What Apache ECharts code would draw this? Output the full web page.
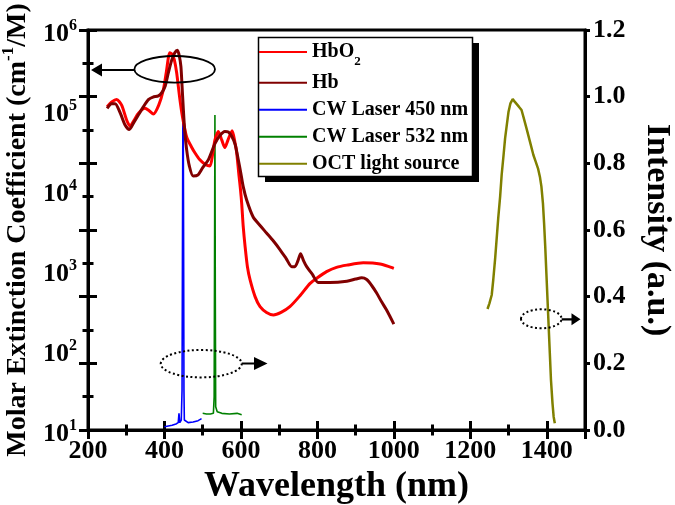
<!DOCTYPE html>
<html><head><meta charset="utf-8">
<script src="https://cdn.jsdelivr.net/npm/echarts@6/dist/echarts.min.js"></script>
<style>html,body{margin:0;padding:0;background:#fff}#c{width:675px;height:505px}</style>
</head><body><div id="c"></div>
<script>
// ---- data ----
const xTicks = [200, 400, 600, 800, 1000, 1200, 1400];
const rightTicks = [0.0, 0.2, 0.4, 0.6, 0.8, 1.0, 1.2];

const hbo2Wl = [250,262,275,288,301,310,320,332,349,360,371,385,397,405,414,420,426,432,440,447,458,470,480,492,506,519,526,532,541,550,558,566,577,585,589,595,599,602,606,611,617,624,637,650,667,685,705,728,755,781,800,824,850,877,920,964,1000];
const hbo2Val = [1.1e5,1.26e5,1.35e5,1.15e5,7.5e4,6.3e4,7.4e4,9.1e4,1.05e5,9.8e4,8.9e4,1.15e5,1.78e5,3.0e5,5.2e5,5.0e5,4.2e5,2.9e5,1.4e5,8.3e4,4.6e4,3.5e4,2.9e4,2.4e4,2.1e4,2.0e4,2.8e4,4.2e4,5.4e4,4.2e4,3.4e4,4.2e4,5.5e4,3.8e4,2.9e4,1.5e4,1.0e4,6.8e3,3.5e3,1.95e3,1.1e3,750,465,348,295,274,295,348,480,680,800,955,1080,1150,1230,1190,1050];

const hbWl = [250,262,271,285,297,308,320,332,345,358,370,384,393,402,410,419,427,434,439,443,446,449,453,458,465,475,488,500,515,532,545,558,567,576,585,593,600,606,615,632,650,667,685,702,718,733,741,749,756,764,772,787,802,833,877,900,916,929,942,955,968,981,1000];
const hbVal = [1.05e5,1.2e5,1.2e5,9.0e4,6.5e4,5.7e4,7.0e4,8.7e4,1.1e5,1.35e5,1.45e5,1.5e5,1.65e5,2.0e5,2.9e5,4.2e5,5.2e5,5.6e5,4.7e5,3.5e5,2.0e5,1.1e5,5.5e4,3.2e4,2.0e4,1.5e4,1.55e4,1.9e4,2.4e4,3.8e4,4.8e4,5.4e4,5.3e4,4.7e4,3.7e4,2.4e4,1.6e4,1.1e4,7.5e3,4.6e3,3.6e3,2.9e3,2.3e3,1.8e3,1.4e3,1.1e3,1.1e3,1.3e3,1.6e3,1.3e3,1.1e3,880,700,700,725,770,800,760,640,515,400,316,211];

const laser450Wl = [400,410,420,430,436,438,440,444,446,447,448,449,450,451,452,456,462,475,488,497];
const laser450Val = [0.010,0.012,0.014,0.018,0.022,0.05,0.022,0.03,0.12,0.5,0.9,0.985,0.6,0.12,0.03,0.025,0.022,0.024,0.028,0.034];

const laser532Wl = [500,510,520,528,530,531,532,533,534,538,550,570,590,602];
const laser532Val = [0.05,0.048,0.048,0.05,0.1,0.5,0.945,0.4,0.07,0.055,0.05,0.048,0.05,0.046];

const octWl = [1245,1250,1256,1260,1265,1269,1273,1278,1282,1287,1291,1296,1300,1305,1311,1316,1321,1327,1334,1340,1347,1356,1365,1371,1377,1382,1386,1390,1393,1396,1399,1402,1405,1408,1411,1415,1418,1421];
const octVal = [0.363,0.38,0.405,0.45,0.515,0.575,0.635,0.70,0.765,0.825,0.875,0.92,0.955,0.98,0.993,0.985,0.98,0.97,0.96,0.935,0.905,0.865,0.825,0.805,0.785,0.76,0.73,0.68,0.62,0.55,0.47,0.39,0.31,0.23,0.15,0.08,0.04,0.02];

const zip = (a, b) => a.map((v, i) => [v, b[i]]);
const FONT = '"Liberation Serif", "Times New Roman", serif';
const BLACK = '#000';

function xAx(interval, inside, len, labels) {
  return {
    type: 'value', min: 200, max: 1500, interval: interval, position: 'bottom', gridIndex: 0,
    axisLine: {show: labels, onZero: false, lineStyle: {color: BLACK, width: 3}},
    axisTick: {show: true, inside: inside, length: len, lineStyle: {color: BLACK, width: 3}},
    axisLabel: {show: labels, margin: 8, fontSize: 26, fontWeight: 'bold', fontFamily: FONT, color: BLACK,
      formatter: v => (xTicks.indexOf(v) >= 0 ? String(v) : '')},
    splitLine: {show: false}
  };
}
function yLin(inside) {
  return {
    type: 'value', min: 0, max: 1.2, interval: 0.2, position: 'left',
    axisLine: {show: false}, axisLabel: {show: false}, splitLine: {show: false},
    axisTick: {show: true, inside: inside, length: 9, lineStyle: {color: BLACK, width: 3}},
    minorTick: {show: true, splitNumber: 2, length: 5.5, lineStyle: {color: BLACK, width: 3}},
    minorSplitLine: {show: false}
  };
}

function buildOption(layered) {
  const zs = layered ? 1 : 0;   // zlevel for series
  const zt = layered ? 2 : 0;   // zlevel for legend / annotations
  const xMain = xAx(200, true, 9, true);
  xMain.name = 'Wavelength (nm)';
  xMain.nameLocation = 'middle';
  xMain.nameGap = 30;
  xMain.nameTextStyle = {fontSize: 36, fontWeight: 'bold', fontFamily: FONT, color: BLACK};
  const line = (name, wl, val, yi, color, width, z, smooth) => ({
    name: name, type: 'line', yAxisIndex: yi, data: zip(wl, val), symbol: 'none', showSymbol: false,
    smooth: smooth, lineStyle: {color: color, width: width}, itemStyle: {color: color}, z: z, zlevel: zs
  });
  const g = (el) => Object.assign({zlevel: zt}, el);
  return {
    animation: false,
    backgroundColor: '#fff',
    grid: {left: 88, right: 90, top: 30, bottom: 75, containLabel: false, outerBoundsMode: 'none',
      show: true, borderColor: BLACK, borderWidth: 3, backgroundColor: 'transparent'},
    xAxis: [xMain, xAx(200, false, 9, false), xAx(100, true, 5.5, false), xAx(100, false, 5.5, false)],
    yAxis: [
      {
        type: 'log', logBase: 10, min: 10, max: 1e6, position: 'left',
        axisLine: {show: true, onZero: false, lineStyle: {color: BLACK, width: 3}},
        axisTick: {show: false}, splitLine: {show: false},
        axisLabel: {
          margin: 11,
          formatter: v => '{b|10}{s|' + Math.round(Math.log10(v)) + '}',
          rich: {
            b: {fontSize: 26, fontWeight: 'bold', fontFamily: FONT, color: BLACK, lineHeight: 26, padding: [8, 0, 0, 0]},
            s: {fontSize: 16, fontWeight: 'bold', fontFamily: FONT, color: BLACK, lineHeight: 16, padding: [0, 0, 8, 0]}
          }
        },
        name: '{n|Molar Extinction Coefficient (cm}{s|-1}{n|/M)}',
        nameLocation: 'middle', nameGap: 46,
        nameTextStyle: {
          rich: {
            n: {fontSize: 28, fontWeight: 'bold', fontFamily: FONT, color: BLACK, lineHeight: 28, padding: [6, 0, 0, 0]},
            s: {fontSize: 17, fontWeight: 'bold', fontFamily: FONT, color: BLACK, lineHeight: 17, padding: [0, 0, 12, 0]}
          }
        }
      },
      yLin(true),
      yLin(false),
      {
        type: 'value', min: 0, max: 1.2, interval: 0.2, position: 'right',
        axisLine: {show: true, onZero: false, lineStyle: {color: BLACK, width: 3}},
        axisTick: {show: true, inside: false, length: 5, lineStyle: {color: BLACK, width: 3}},
        splitLine: {show: false},
        axisLabel: {margin: 8, fontSize: 26, fontWeight: 'bold', fontFamily: FONT, color: BLACK,
          formatter: v => { const t = rightTicks.find(r => Math.abs(r - v) < 1e-6); return t === undefined ? '' : t.toFixed(1); }},
        name: 'Intensity (a.u.)', nameLocation: 'middle', nameGap: 55, nameRotate: -90,
        nameTextStyle: {fontSize: 34, fontWeight: 'bold', fontFamily: FONT, color: BLACK}
      }
    ],
    legend: [
      {
        data: ['HbO2'], orient: 'vertical', left: 258, top: 42, padding: 0, zlevel: zt,
        itemWidth: 48, itemHeight: 14, itemGap: 0, selectedMode: false, z: 10,
        itemStyle: {opacity: 0},
        formatter: () => '{h|HbO}{s|2}',
        textStyle: {
          rich: {
            h: {fontSize: 20, fontWeight: 'bold', fontFamily: FONT, color: BLACK},
            s: {fontSize: 13, fontWeight: 'bold', fontFamily: FONT, color: BLACK, padding: [20, 0, 0, 0]}
          }
        }
      },
      {
        data: ['Hb', 'CW Laser 450 nm', 'CW Laser 532 nm', 'OCT light source'],
        orient: 'vertical', left: 258, top: 72.7, padding: 0, zlevel: zt,
        itemWidth: 48, itemHeight: 14, itemGap: 7, selectedMode: false, z: 10,
        itemStyle: {opacity: 0},
        textStyle: {fontSize: 20, fontWeight: 'bold', fontFamily: FONT, color: BLACK, lineHeight: 20}
      }
    ],
    series: [
      line('HbO2', hbo2Wl, hbo2Val, 0, '#ff0000', 3, 3, 0.25),
      line('Hb', hbWl, hbVal, 0, '#800000', 3, 4, 0.25),
      line('CW Laser 450 nm', laser450Wl, laser450Val, 3, '#0000ff', 1.6, 2, false),
      line('CW Laser 532 nm', laser532Wl, laser532Val, 3, '#008000', 1.6, 2, false),
      line('OCT light source', octWl, octVal, 3, '#808000', 2.5, 2, false)
    ],
    graphic: [
      g({type: 'rect', z: 5, shape: {x: 265, y: 43, width: 214, height: 139}, style: {fill: BLACK}}),
      g({type: 'rect', z: 6, shape: {x: 258.5, y: 37.5, width: 214, height: 139}, style: {fill: '#fff', stroke: BLACK, lineWidth: 1.5}}),
      g({type: 'polygon', z: 7, shape: {points: [[134.4, 68.9], [102, 68.9], [102, 63.5], [91, 70], [102, 76.5], [102, 71.1], [134.4, 71.1]]}, style: {fill: BLACK}}),
      g({type: 'polygon', z: 7, shape: {points: [[241.7, 362.4], [254, 362.4], [254, 357], [267.5, 363.5], [254, 370], [254, 364.6], [241.7, 364.6]]}, style: {fill: BLACK}}),
      g({type: 'polygon', z: 7, shape: {points: [[561.6, 318.2], [571.5, 318.2], [571.5, 313.3], [580.5, 319.3], [571.5, 325.3], [571.5, 320.4], [561.6, 320.4]]}, style: {fill: BLACK}}),
      g({type: 'ellipse', z: 7, shape: {cx: 174.7, cy: 69.3, rx: 40.3, ry: 13.3}, style: {fill: null, stroke: BLACK, lineWidth: 1.8}}),
      g({type: 'ellipse', z: 7, shape: {cx: 541.3, cy: 318.8, rx: 20.3, ry: 9.5}, style: {fill: null, stroke: BLACK, lineWidth: 2, lineDash: [2, 2.5]}}),
      g({type: 'ellipse', z: 7, shape: {cx: 201.2, cy: 363.7, rx: 40.5, ry: 13.7}, style: {fill: null, stroke: BLACK, lineWidth: 2, lineDash: [2, 2.5]}})
    ]
  };
}

// tick visibility check on the painted canvases (outer left ticks and outer bottom ticks)
function ticksVisible(ch) {
  const canvases = ch.getDom().querySelectorAll('canvas');
  if (!canvases.length) return true;
  const pts = [[83, 363], [83, 296], [165, 435], [318, 435]];
  let hits = 0;
  pts.forEach(([x, y]) => {
    for (const cv of canvases) {
      const s = cv.width / (cv.clientWidth || 675);
      const d = cv.getContext('2d').getImageData(Math.round(x * s), Math.round(y * s), 1, 1).data;
      if (d[3] > 100 && d[0] + d[1] + d[2] < 300) { hits++; break; }
    }
  });
  return hits >= 3;
}

const dom = document.getElementById('c');
let chart = null;
let stage = 0;
function render(st) {
  if (chart) chart.dispose();
  stage = st;
  chart = echarts.init(dom, null, {renderer: st === 2 ? 'svg' : 'canvas'});
  chart.setOption(buildOption(st >= 1));
}
function ensure() {
  if (stage < 2 && !ticksVisible(chart)) { render(stage + 1); if (stage < 2 && !ticksVisible(chart)) render(2); }
}
render(0);
ensure();
setTimeout(ensure, 60);
setTimeout(ensure, 250);
</script>
</body></html>
